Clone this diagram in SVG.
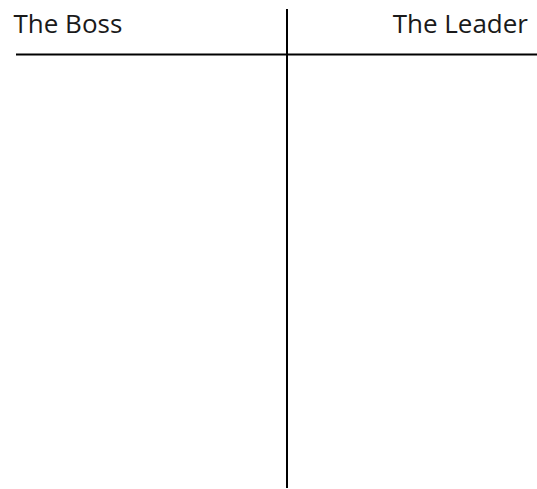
<svg xmlns="http://www.w3.org/2000/svg" width="537" height="489" viewBox="0 0 537 489">
<style>
.lbl{font-family:"Open Sans","Noto Sans","Liberation Sans",sans-serif;font-size:26px;fill:#1a1a1a}
.ln{stroke:#000;stroke-width:2;fill:none}
</style>
<rect width="537" height="489" fill="#fff"/>
<g id="connectors">
<line class="ln" x1="16" y1="54.5" x2="537" y2="54.5"/>
<line class="ln" x1="287" y1="9" x2="287" y2="488"/>
</g>
<g id="boss"><text class="lbl" x="13.5" y="33.3">The Boss</text></g>
<g id="leader"><text class="lbl" x="528" y="33.3" text-anchor="end">The Leader</text></g>
</svg>
